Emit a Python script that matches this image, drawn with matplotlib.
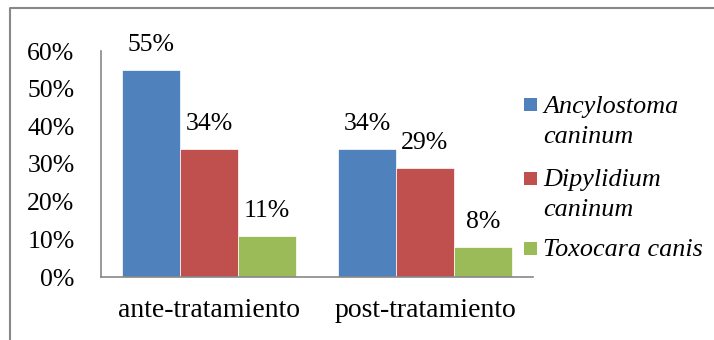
import matplotlib
matplotlib.use("Agg")
import matplotlib.pyplot as plt
from matplotlib.patches import Rectangle
from matplotlib.lines import Line2D
import numpy as np

categories = ["ante-tratamiento", "post-tratamiento"]
series_names = ["Ancylostoma\ncaninum", "Dipylidium\ncaninum", "Toxocara canis"]
ancylostoma = [55, 34]
dipylidium = [34, 29]
toxocara = [11, 8]
yticks = [0, 10, 20, 30, 40, 50, 60]
colors = ["#4F81BD", "#C0504D", "#9BBB59"]

plt.rcParams['font.family'] = ['Liberation Serif', 'DejaVu Serif']
FS = 18.5

fig = plt.figure(figsize=(7.14, 3.4), dpi=100)
ax = fig.add_axes([101/714, 1-277/340, 432/714, 226/340])

series = [ancylostoma, dipylidium, toxocara]
x = np.arange(len(categories))
w = 58/216
for i, vals in enumerate(series):
    pos = x + (i - 1) * w
    bars = ax.bar(pos, vals, width=w, color=colors[i], edgecolor="white", linewidth=0.5)
    for b, v in zip(bars, vals):
        ax.annotate(f"{v}%", (b.get_x() + b.get_width()/2, v), xytext=(0, 10),
                    textcoords="offset points", ha="center", va="bottom", fontsize=FS)

ax.set_xlim(-0.5, 1.5)
ax.set_ylim(0, 60)
ax.set_yticks(yticks)
ax.set_yticklabels([f"{t}%" for t in yticks], fontsize=FS)
ax.set_xticks(x)
ax.set_xticklabels(categories, fontsize=20)
ax.tick_params(axis="y", length=0, pad=19)
ax.tick_params(axis="x", length=0, pad=15)
for s in ["top", "right"]:
    ax.spines[s].set_visible(False)
for s in ["left", "bottom"]:
    ax.spines[s].set_color("#888888")
    ax.spines[s].set_linewidth(1.2)

# legend drawn manually
leg_y = [105, 178, 248]
for name, c, yy in zip(series_names, colors, leg_y):
    fig.patches.append(Rectangle((524/714, 1-(yy+6.5)/340), 13/714, 13/340,
                                 transform=fig.transFigure, facecolor=c, edgecolor="none"))
    fig.text(543/714, 1-(yy-9)/340, name, fontsize=18.8, style="italic", va="top", ha="left",
             linespacing=1.45)

# outer frame (top and left visible)
fig.add_artist(Line2D([10/714, 10/714, 1.0], [0.0, 1-8/340, 1-8/340],
                      transform=fig.transFigure, color="#888888", linewidth=1.5))

fig.savefig("out.png", dpi=100)
